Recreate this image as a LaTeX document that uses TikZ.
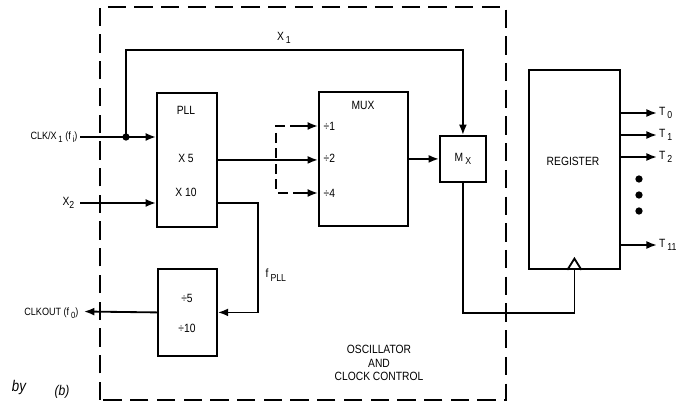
\documentclass[tikz,border=0pt]{standalone}
\usepackage{graphicx}
\usepackage{fontspec}
\setmainfont{Liberation Sans}[FakeStretch=0.86]
\usetikzlibrary{arrows.meta,positioning}
\newcommand\lowsub[1]{\raisebox{-.55ex}{\scalebox{.85}{#1}}}

\begin{document}
\begin{tikzpicture}[x=0.025cm,y=-0.025cm,font=\fontsize{8.5}{9.5}\selectfont,
 box/.style={draw,line width=1.3pt,inner sep=0pt},
 ar/.style={-{Latex[length=2.6mm,width=2mm]},line width=1.3pt},
 ln/.style={line width=1.3pt},
 lab/.style={inner sep=1pt}]
\useasboundingbox (0,0) rectangle (686,406);
\draw[line width=.9pt,dash pattern=on 13pt off 6pt] (100,400) -- (100,7) -- (506,7) -- (506,400) -- cycle;
\node[box,anchor=north west,minimum width=1.5cm,minimum height=3.35cm] (pll) at (156,92) {};
\node[box,anchor=north west,minimum width=2.225cm,minimum height=3.35cm] (mux) at (318,91) {};
\node[box,anchor=north west,minimum width=1.15cm,minimum height=1.15cm] (mx) at (439,135) {M\,\lowsub{X}};
\node[box,anchor=north west,minimum width=2.275cm,minimum height=4.975cm] (reg) at (528,69) {};
\node[box,anchor=north west,minimum width=1.475cm,minimum height=2.175cm] (div) at (157,268) {};
\node[lab] at (186,110) {PLL};
\node[lab] at (186,158) {X 5};
\node[lab] at (186,192) {X 10};
\node[lab] at (363,105) {MUX};
\node[lab,anchor=west] at (322,126) {÷1};
\node[lab,anchor=west] at (322,158) {÷2};
\node[lab,anchor=west] at (322,193) {÷4};
\node[lab] at (573,161) {REGISTER};
\node[lab] at (187,298) {÷5};
\node[lab] at (187,328) {÷10};
\node[lab,align=center] at (379,363) {OSCILLATOR\\AND\\CLOCK CONTROL};
\coordinate (clkin) at (80,137);
\coordinate (split) at (126,137);
\coordinate (x1top) at (126,50);
\coordinate (x2in) at (80,203);
\coordinate (fpll) at (258,203);
\coordinate (clkout) at (84,311.5);
\coordinate (d1) at (300,126);
\coordinate (d4) at (300,193);
\node[lab,anchor=east,font=\fontsize{7.5}{9}\selectfont] at (79,137) {CLK/X\,\lowsub{1} (f\,\lowsub{i})};
\node[lab,anchor=east] at (76,203) {X\lowsub{2}};
\node[lab,anchor=east,font=\fontsize{7.5}{9}\selectfont] at (80,313) {CLKOUT (f\,\lowsub{0})};
\draw[ar] (clkin) -- (clkin -| pll.west);
\fill (split) circle (2.6pt);
\draw[ar] (split) -- (x1top) -| (mx.north);
\node[lab] at (284,38) {X\,\lowsub{1}};
\draw[ar] (x2in) -- (x2in -| pll.west);
\draw[ar] (pll.east) -- (pll.east -| mux.west);
\draw[ln,dash pattern=on 7pt off 4pt] (d1) -- (276,126) -- (276,193) -- (d4);
\draw[ar] (d1) -- (d1 -| mux.west);
\draw[ar] (d4) -- (d4 -| mux.west);
\draw[ar] (mux.east) -- (mx.west);
\draw[ln] (mx.south) -- ++(0,130) -| (reg.south);
\draw[ln] ([xshift=-5pt]reg.south) -- ([yshift=8pt]reg.south) -- ([xshift=5pt]reg.south);
\foreach \yy/\n in {113/0,135/1,157/2,245/11}
 {\coordinate (o) at (0,\yy);
  \draw[ar] (reg.east |- o) -- ++(36,0) node[right,lab] {T\,\lowsub{\n}};}
\foreach \yy in {179,195,211}
 {\fill (639,\yy) circle (2.6pt);}
\draw[ar] (pll.east |- x2in) -- (fpll) |- (div.east);
\node[lab,anchor=west] at (264,275) {f\,\lowsub{PLL}};
\draw[ar] (div.west) -- (clkout);
\node[lab,font=\itshape\fontsize{11}{12}\selectfont] at (19,388) {by};
\node[lab,font=\itshape\fontsize{10}{12}\selectfont] at (62,392) {(b)};
\end{tikzpicture}
\end{document}
